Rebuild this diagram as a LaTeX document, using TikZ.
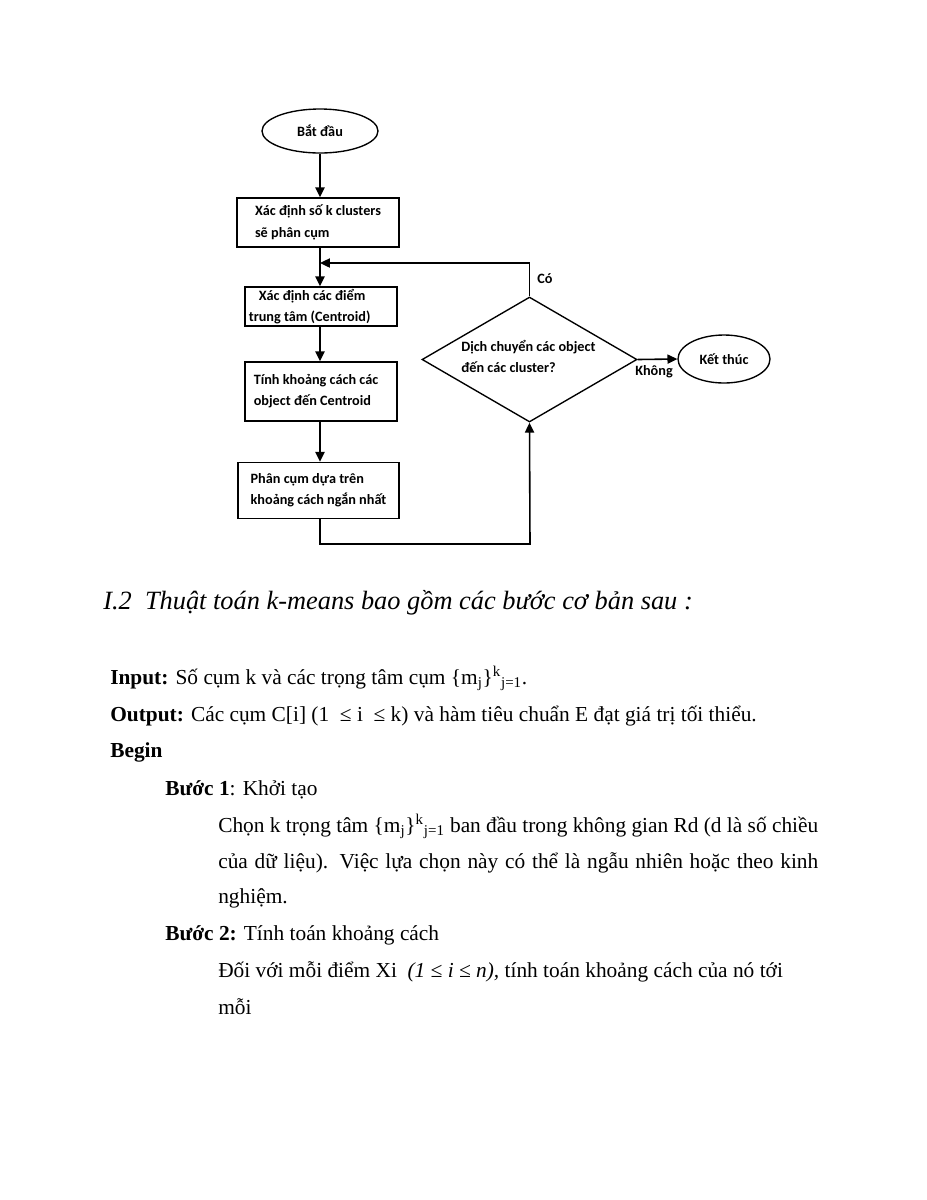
\documentclass[tikz,border=0pt]{standalone}
\usepackage{fontspec}
\setmainfont{Liberation Serif}
\newfontfamily\flowfont{Carlito}
\usetikzlibrary{shapes.geometric,arrows.meta}
\begin{document}
\begin{tikzpicture}[x=0.66pt,y=-0.66pt,
  conn/.style={line width=1.05pt,-{Triangle[length=6.5pt,width=6pt]}},
  fbox/.style={draw,line width=0.9pt,rectangle,inner sep=0pt,font=\flowfont\bfseries\fontsize{9.4}{14}\selectfont,align=left},
  fell/.style={draw,line width=0.9pt,ellipse,inner sep=0pt,font=\flowfont\bfseries\fontsize{9.4}{14}\selectfont},
  flab/.style={inner sep=0pt,font=\flowfont\bfseries\fontsize{9.4}{14}\selectfont},
  body/.style={anchor=base west,inner sep=0pt,font=\fontsize{14.1}{17}\selectfont},
]
\def\px{0.66pt}
\useasboundingbox (0,0) rectangle (927,1200);
% flowchart
\node[fell,minimum width=116*\px,minimum height=44*\px] (start) at (320,131) {Bắt đầu};
\node[fbox,minimum width=162*\px,minimum height=49*\px] (b1) at (318,222.5) {Xác định số k clusters\\sẽ phân cụm};
\node[fbox,minimum width=152*\px,minimum height=39*\px] (b2) at (321,306.5) {\hspace*{6.6pt}Xác định các điểm\\trung tâm (Centroid)\hspace*{15pt}};
\node[fbox,minimum width=152*\px,minimum height=59*\px] (b3) at (321,391.5) {Tính khoảng cách các\hspace*{6.6pt}\\object đến Centroid};
\node[fbox,minimum width=161*\px,minimum height=56*\px] (b4) at (318.5,490.5) {Phân cụm dựa trên\\khoảng cách ngắn nhất};
\node[draw,line width=0.9pt,diamond,inner sep=0pt,minimum width=215*\px,minimum height=125*\px] (dia) at (529.5,359.5) {};
\node[flab,align=left,anchor=west] (diat) at (461,356.5) {Dịch chuyển các object\\đến các cluster?};
\node[fell,minimum width=92*\px,minimum height=48*\px] (end) at (724,359) {Kết thúc};
\node[flab,anchor=center] (co) at (545,279) {Có};
\node[flab,anchor=center] (khong) at (654,372) {Không};
\coordinate (j) at (320,263);
\coordinate (c) at (530,544);
\draw[conn] (start) -- (start |- b1.north);
\draw[conn] (j |- b1.south) -- (j |- b2.north);
\draw[conn] (dia.north) |- (j);
\draw[conn] (j |- b2.south) -- (j |- b3.north);
\draw[conn] (j |- b3.south) -- (j |- b4.north);
\draw[conn] (j |- b4.south) |- (c) -- (dia.south);
\draw[conn] (dia.east) -- (end.west);
% text
\node[anchor=base west,inner sep=0pt,font=\fontsize{17.4}{20}\selectfont\itshape] (head) at (103,609) {I.2\ \ Thuật toán k-means bao gồm các bước cơ bản sau :};
\node[body] (in) at (110,684) {\textbf{Input:} Số cụm k và các trọng tâm cụm \{m\textsubscript{j}\}\textsuperscript{k}\textsubscript{j=1}.};
\node[body] (out) at (110,721) {\textbf{Output:} Các cụm C[i] (1 \ ≤ i \ ≤ k) và hàm tiêu chuẩn E đạt giá trị tối thiểu.};
\node[body] (begin) at (110,757) {\textbf{Begin}};
\node[body] (s1) at (165,795) {\textbf{Bước 1}: Khởi tạo};
\node[body] (p1) at (218,832) {\hbox to 396pt{Chọn k trọng tâm \{m\textsubscript{j}\}\textsuperscript{k}\textsubscript{j=1} ban đầu trong không gian Rd (d là số chiều}};
\node[body] (p2) at (218,868) {\hbox to 396pt{của dữ liệu). Việc lựa chọn này có thể là ngẫu nhiên hoặc theo kinh}};
\node[body] (p3) at (218,903) {nghiệm.};
\node[body] (s2) at (165,940) {\textbf{Bước 2:} Tính toán khoảng cách};
\node[body] (p4) at (218,977) {Đối với mỗi điểm Xi \ \textit{(1 ≤ i ≤ n),} tính toán khoảng cách của nó tới};
\node[body] (p5) at (218,1014) {mỗi};
\end{tikzpicture}
\end{document}
